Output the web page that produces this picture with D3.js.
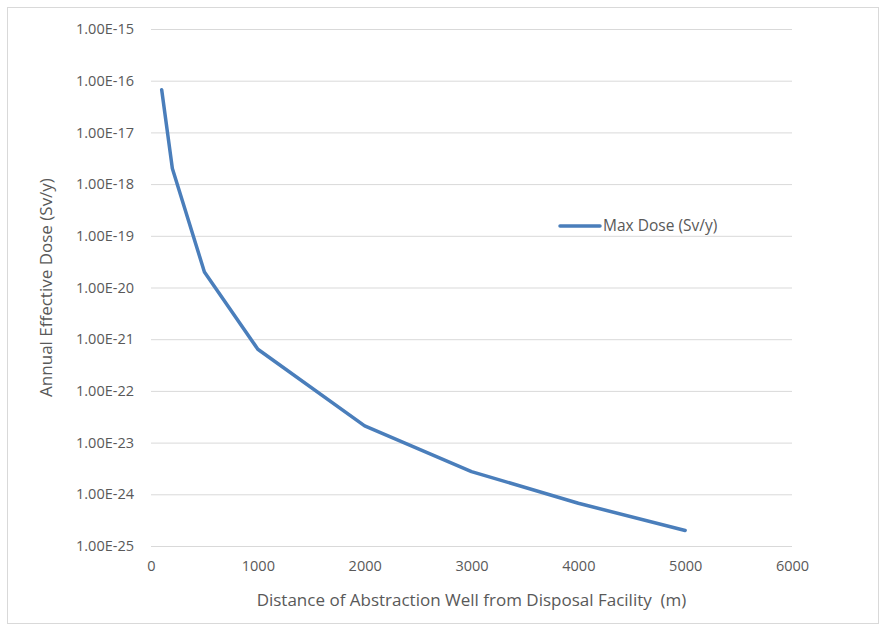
<!DOCTYPE html>
<html>
<head>
<meta charset="utf-8">
<script src="https://cdn.jsdelivr.net/npm/d3@7"></script>
<style>
  body { margin: 0; background: #fff; }
  text { font-family: "Open Sans", "Liberation Sans", sans-serif; fill: #595959; }
</style>
</head>
<body>
<svg id="chart" width="886" height="631"></svg>
<script>
// distance from disposal facility (m) and max dose (Sv/y)
const distances = [100, 200, 500, 1000, 2000, 3000, 4000, 5000];
const doses = [6.7e-17, 2.0e-18, 2.0e-20, 6.4e-22, 2.1e-23, 2.75e-24, 6.7e-25, 2.0e-25];
const xTicks = [0, 1000, 2000, 3000, 4000, 5000, 6000];
const yTicks = [1e-15, 1e-16, 1e-17, 1e-18, 1e-19, 1e-20, 1e-21, 1e-22, 1e-23, 1e-24, 1e-25];
const seriesName = "Max Dose (Sv/y)";

const svg = d3.select("#chart");
const width = 886, height = 631;
const margin = { left: 151, right: 94, top: 29, bottom: 85 };

svg.append("rect")
  .attr("x", 7.5).attr("y", 7.5)
  .attr("width", width - 15).attr("height", height - 15)
  .attr("fill", "#fff").attr("stroke", "#d9d9d9");

const x = d3.scaleLinear().domain([0, 6000]).range([margin.left, width - margin.right]);
const y = d3.scaleLog().domain([1e-25, 1e-15]).range([height - margin.bottom, margin.top]);

const fmt = d => {
  const e = Math.round(Math.log10(d));
  return "1.00E" + (e < 0 ? "-" : "+") + String(Math.abs(e)).padStart(2, "0");
};

// gridlines + y labels
const yAxis = d3.axisLeft(y)
  .tickValues(yTicks)
  .tickFormat(fmt)
  .tickSize(-(x.range()[1] - x.range()[0]))
  .tickPadding(17);

svg.append("g")
  .attr("transform", `translate(${margin.left},0)`)
  .call(yAxis)
  .call(g => g.select(".domain").remove())
  .call(g => g.selectAll(".tick line").attr("stroke", "#d9d9d9"))
  .call(g => g.selectAll(".tick text").attr("font-size", 14.5).attr("fill", "#595959"));

const xAxis = d3.axisBottom(x)
  .tickValues(xTicks)
  .tickFormat(d3.format("d"))
  .tickSize(0)
  .tickPadding(15);

svg.append("g")
  .attr("transform", `translate(0,${y.range()[0]})`)
  .call(xAxis)
  .call(g => g.select(".domain").remove())
  .call(g => g.selectAll(".tick text").attr("font-size", 14.5).attr("fill", "#595959"));

// series line
const line = d3.line()
  .x((d, i) => x(distances[i]))
  .y(d => y(d));

svg.append("path")
  .datum(doses)
  .attr("d", line)
  .attr("fill", "none")
  .attr("stroke", "#4a7ebb")
  .attr("stroke-width", 3.5)
  .attr("stroke-linecap", "round")
  .attr("stroke-linejoin", "round");

// axis titles
svg.append("text")
  .attr("transform", `translate(52,${(y.range()[0] + y.range()[1]) / 2}) rotate(-90)`)
  .attr("text-anchor", "middle")
  .attr("font-size", 17)
  .text("Annual Effective Dose (Sv/y)");

svg.append("text")
  .attr("x", (x.range()[0] + x.range()[1]) / 2)
  .attr("y", 606)
  .attr("text-anchor", "middle")
  .attr("font-size", 17)
  .attr("xml:space", "preserve")
  .text("Distance of Abstraction Well from Disposal Facility  (m)");

// legend
const legend = svg.append("g").attr("transform", "translate(560,226)");
legend.append("line")
  .attr("x1", 0).attr("x2", 40)
  .attr("stroke", "#4a7ebb").attr("stroke-width", 3.5)
  .attr("stroke-linecap", "round");
legend.append("text")
  .attr("x", 43).attr("dy", "0.35em")
  .attr("font-size", 15.5)
  .text(seriesName);
</script>
</body>
</html>
